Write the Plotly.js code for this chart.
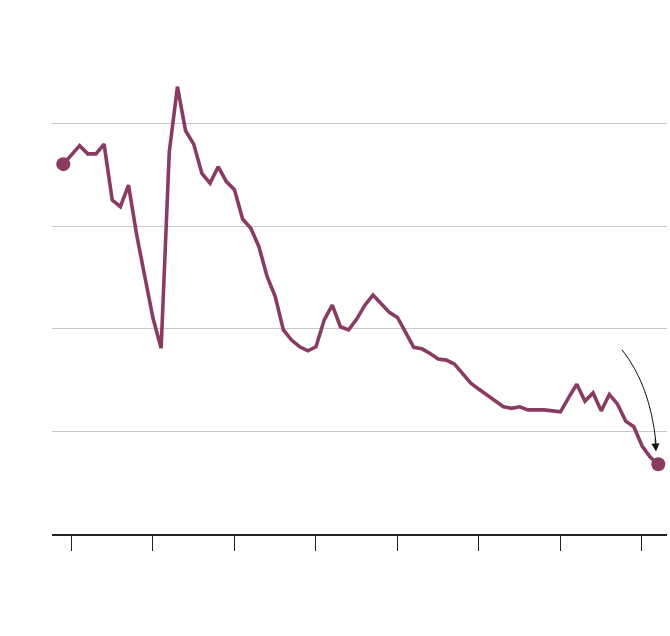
<!DOCTYPE html>
<html>
<head>
<meta charset="utf-8">
<script src="https://cdn.plot.ly/plotly-3.0.1.min.js"></script>
<style>html,body{margin:0;padding:0;background:#fff;}#chart{width:670px;height:636px;}</style>
</head>
<body>
<div id="chart"></div>
<script>
var years = [];
for (var yr = 1949; yr <= 2022; yr++) years.push(yr);

var values = [
  7.21, 7.39, 7.57, 7.41, 7.41, 7.60, 6.51, 6.38, 6.80, 5.83,
  4.99, 4.21, 3.62, 7.45, 8.72, 7.86, 7.60, 7.03, 6.84, 7.16,
  6.87, 6.71, 6.14, 5.96, 5.60, 5.02, 4.63, 3.98, 3.78, 3.65,
  3.57, 3.65, 4.17, 4.46, 4.04, 3.98, 4.19, 4.46, 4.66, 4.48,
  4.32, 4.22, 3.94, 3.64, 3.61, 3.52, 3.41, 3.39, 3.31, 3.13,
  2.94, 2.82, 2.70, 2.59, 2.48, 2.45, 2.48, 2.42, 2.42, 2.42,
  2.40, 2.38, 2.66, 2.92, 2.59, 2.75, 2.40, 2.72, 2.53, 2.20,
  2.09, 1.72, 1.50, 1.36
];

var tickYears = [1950, 1960, 1970, 1980, 1990, 2000, 2010, 2020];
var gridValues = [2, 4, 6, 8];

var lineColor = '#8a3b63';
var n = years.length;

var traces = [
  {
    x: years, y: values, type: 'scatter', mode: 'lines',
    line: {color: lineColor, width: 3.6},
    hoverinfo: 'skip', showlegend: false
  },
  {
    x: [years[0], years[n - 1]], y: [values[0], values[n - 1]],
    type: 'scatter', mode: 'markers',
    marker: {color: lineColor, size: 14},
    hoverinfo: 'skip', showlegend: false
  }
];

var lx = years[n - 1], ly = values[n - 1];
var curvePath = 'M ' + (lx - 4.45) + ',' + (ly + 2.23) +
  ' Q ' + (lx - 1.02) + ',' + (ly + 1.55) +
  ' ' + (lx - 0.28) + ',' + (ly + 0.42);

var layout = {
  width: 670, height: 636,
  margin: {l: 52, r: 3, t: 21, b: 102},
  paper_bgcolor: '#fff', plot_bgcolor: '#fff',
  showlegend: false,
  xaxis: {
    range: [1947.61, 2023.07],
    tickvals: tickYears, ticktext: tickYears.map(String),
    showticklabels: false,
    ticks: 'outside', ticklen: 15, tickwidth: 1, tickcolor: '#222',
    showgrid: false, zeroline: false,
    showline: true, linecolor: '#222', linewidth: 1.5,
    fixedrange: true
  },
  yaxis: {
    range: [0, 10],
    tickvals: gridValues, ticktext: gridValues.map(String),
    showticklabels: false, ticks: '',
    showgrid: true, gridcolor: '#c8c8c8', gridwidth: 1,
    zeroline: false, showline: false,
    fixedrange: true
  },
  shapes: [
    {type: 'path', xref: 'x', yref: 'y', path: curvePath,
     line: {color: '#111', width: 1}}
  ],
  annotations: [
    {x: lx - 0.28, y: ly + 0.25, xref: 'x', yref: 'y', text: '',
     showarrow: true, arrowhead: 2, arrowsize: 1.6, arrowwidth: 1,
     arrowcolor: '#111', ax: -1, ay: -14}
  ]
};

Plotly.newPlot('chart', traces, layout, {displayModeBar: false, staticPlot: true});
</script>
</body>
</html>
